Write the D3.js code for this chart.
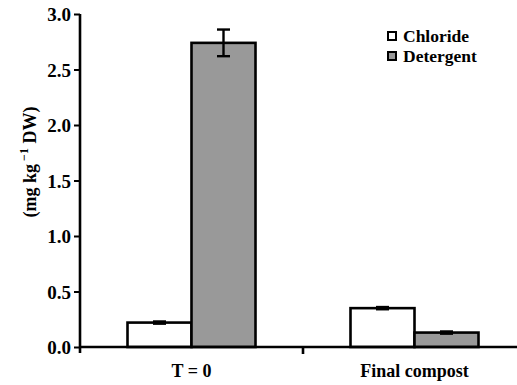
<!DOCTYPE html>
<html><head><meta charset="utf-8">
<script src="https://cdn.jsdelivr.net/npm/d3@7"></script>
<style>
body{margin:0;background:#fff}
svg{display:block}
svg text, svg tspan{font-family:'Liberation Serif' !important;font-weight:bold !important}
</style>
</head><body><svg id="c" width="517" height="385" font-family="Liberation Serif"></svg>
<script>
const categories = ["T = 0", "Final compost"];
const series = ["Chloride", "Detergent"];
const chlorideValues = [0.22, 0.35];
const chlorideErrors = [0.01, 0.01];
const detergentValues = [2.74, 0.13];
const detergentErrors = [0.12, 0.01];
const yTicks = [0, 0.5, 1.0, 1.5, 2.0, 2.5, 3.0];
const colors = {Chloride: "#ffffff", Detergent: "#999999"};
const FONT = "Liberation Serif";

const svg = d3.select("#c");
const mLeft = 80, mRight = 526, mTop = 14, mBottom = 347;
const x0 = d3.scaleBand().domain(categories).range([mLeft, mRight]);
const barW = 64;
const x1 = d3.scaleBand().domain(series)
  .range([x0.bandwidth()/2 - barW, x0.bandwidth()/2 + barW]);
const y = d3.scaleLinear().domain([0, 3]).range([mBottom, mTop]);

const data = categories.map((c, i) => ({cat: c, vals: [
  {s: "Chloride", v: chlorideValues[i], e: chlorideErrors[i]},
  {s: "Detergent", v: detergentValues[i], e: detergentErrors[i]}
]}));

const g = svg.append("g").selectAll("g").data(data).join("g")
  .attr("transform", d => `translate(${x0(d.cat)},0)`);
g.selectAll("rect").data(d => d.vals).join("rect")
  .attr("x", d => x1(d.s)).attr("width", x1.bandwidth())
  .attr("y", d => y(d.v)).attr("height", d => y(0) - y(d.v))
  .attr("fill", d => colors[d.s]).attr("stroke", "#000").attr("stroke-width", 2.6);
// error bars
const eb = g.selectAll("g.eb").data(d => d.vals).join("g").attr("class", "eb")
  .attr("stroke", "#000").attr("stroke-width", 2.4);
eb.append("line").attr("x1", d => x1(d.s) + x1.bandwidth()/2).attr("x2", d => x1(d.s) + x1.bandwidth()/2)
  .attr("y1", d => y(d.v + d.e)).attr("y2", d => y(d.v - d.e));
[1, -1].forEach(k => eb.append("line")
  .attr("x1", d => x1(d.s) + x1.bandwidth()/2 - 6.5).attr("x2", d => x1(d.s) + x1.bandwidth()/2 + 6.5)
  .attr("y1", d => y(d.v + k*d.e)).attr("y2", d => y(d.v + k*d.e)));

// y axis
const ya = svg.append("g").attr("transform", `translate(${mLeft},0)`)
  .call(d3.axisLeft(y).tickValues(yTicks).tickFormat(d3.format(".1f")).tickSize(6).tickSizeOuter(0));
ya.attr("font-family", FONT).attr("font-size", 19).attr("font-weight", "bold");
ya.select(".domain").attr("stroke-width", 2.6).attr("d", `M0,${mTop}V${mBottom+6}`);
ya.selectAll(".tick line").attr("stroke-width", 2);
ya.selectAll(".tick text").attr("x", -9).attr("dy", "0.36em").attr("fill", "#000");

// x axis
const xa = svg.append("g").attr("transform", `translate(0,${mBottom})`)
  .attr("font-family", FONT).attr("font-weight", "bold").attr("font-size", 18);
xa.append("line").attr("x1", mLeft).attr("x2", 517).attr("stroke", "#000").attr("stroke-width", 2.6);
categories.slice(1).forEach(c => xa.append("line").attr("x1", x0(c)).attr("x2", x0(c))
  .attr("y1", 0).attr("y2", 7).attr("stroke", "#000").attr("stroke-width", 2.6));
xa.selectAll("text").data(categories).join("text")
  .attr("x", c => x0(c) + x0.bandwidth()/2).attr("y", 30).attr("text-anchor", "middle")
  .text(c => c);

// y label
const yl = svg.append("text").attr("transform", "translate(36,162) rotate(-90)")
  .attr("text-anchor", "middle").attr("font-family", FONT).attr("font-weight", "bold")
  .attr("font-size", 18);
yl.append("tspan").text("(mg kg");
yl.append("tspan").attr("dy", -8).attr("dx", 3).attr("font-size", 12).text("\u22121");
yl.append("tspan").attr("dy", 8).text(" DW)");

// legend
const lg = svg.append("g").attr("transform", "translate(388,32)")
  .attr("font-family", FONT).attr("font-weight", "bold").attr("font-size", 17.5);
series.forEach((s, i) => {
  const r = lg.append("g").attr("transform", `translate(0,${i*20})`);
  r.append("rect").attr("width", 8).attr("height", 8).attr("fill", colors[s])
    .attr("stroke", "#000").attr("stroke-width", 2);
  r.append("text").attr("x", 15).attr("y", 10).text(s);
});
</script></body></html>
